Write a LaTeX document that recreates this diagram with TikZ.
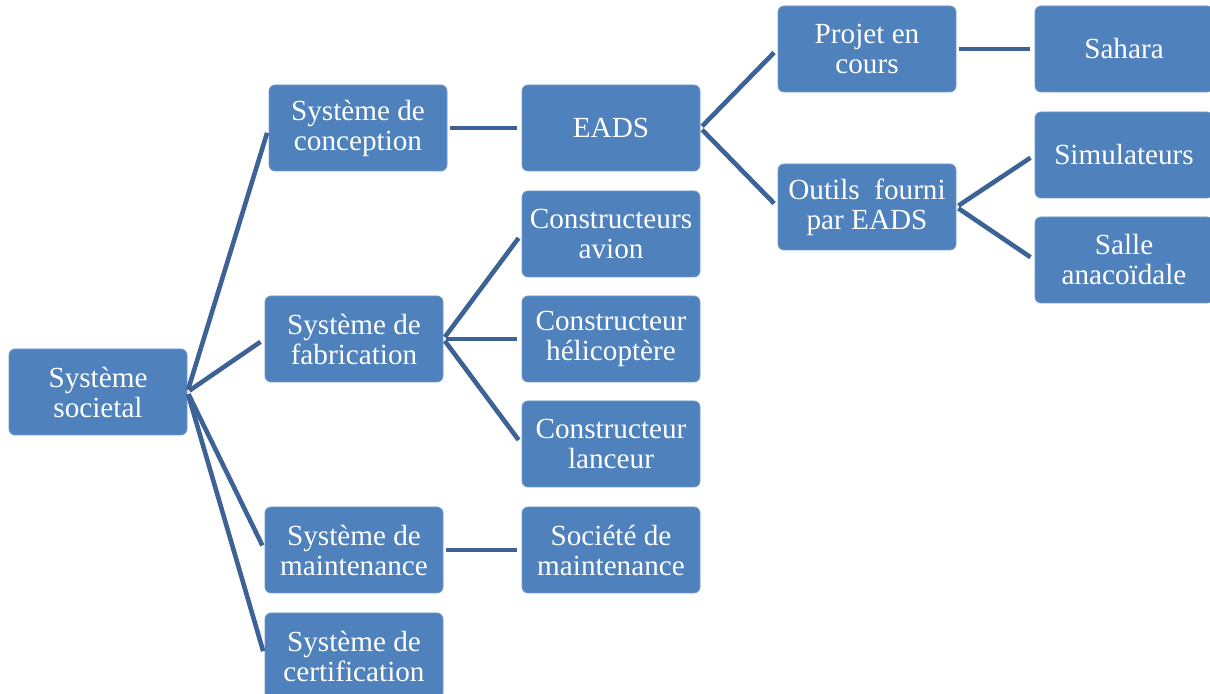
\documentclass[tikz,border=0pt]{standalone}
\usepackage{fontspec}
\setmainfont{Liberation Serif}
\usepackage{tikz}
\usetikzlibrary{positioning}
\definecolor{SmartBlau}{RGB}{79,129,189}
\definecolor{LinkBlau}{RGB}{60,98,150}

\tikzset{
    box/.style={shape=rectangle, rounded corners=3pt, fill=SmartBlau, draw=SmartBlau!80!white, line width=0.4pt,
                minimum width=89pt, minimum height=43pt, inner sep=1pt, align=center, text=white,
                font=\fontsize{14.6}{15}\selectfont},
    link/.style={line width=2.3pt, LinkBlau, shorten <=1.2pt, shorten >=2.5pt}
}

\begin{document}
\begin{tikzpicture}[x=0.5pt, y=-0.5pt]
    \useasboundingbox (0,0) rectangle (1210,694);
    % niveau 0
    \node[box] (soc)      at (  98,392) {Système\\societal};
    % niveau 1
    \node[box] (conc)     at ( 358,128) {Système de\\conception};
    \node[box] (fab)      at ( 354,339) {Système de\\fabrication};
    \node[box] (maint)    at ( 354,550) {Système de\\maintenance};
    \node[box] (cert)     at ( 354,656) {Système de\\certification};
    % niveau 2
    \node[box] (eads)     at ( 611,128) {EADS};
    \node[box] (cavion)   at ( 611,234) {Constructeurs\\avion};
    \node[box] (chelico)  at ( 611,339) {Constructeur\\hélicoptère};
    \node[box] (clanc)    at ( 611,444) {Constructeur\\lanceur};
    \node[box] (socmaint) at ( 611,550) {Société de\\maintenance};
    % niveau 3
    \node[box] (projet)   at ( 867, 49) {Projet en\\cours};
    \node[box] (outils)   at ( 867,207) {Outils\ \ fourni\\par EADS};
    % niveau 4
    \node[box] (sahara)   at (1124, 49) {Sahara};
    \node[box] (simul)    at (1124,155) {Simulateurs};
    \node[box] (salle)    at (1124,260) {Salle\\anacoïdale};

    \path[link] (soc.east)    edge (conc.west)
                (soc.east)    edge (fab.west)
                (soc.east)    edge (maint.west)
                (soc.east)    edge (cert.west);
    \path[link] (conc.east)   edge (eads.west);
    \path[link] (fab.east)    edge (cavion.west)
                (fab.east)    edge (chelico.west)
                (fab.east)    edge (clanc.west);
    \path[link] (maint.east)  edge (socmaint.west);
    \path[link] (eads.east)   edge (projet.west)
                (eads.east)   edge (outils.west);
    \path[link] (projet.east) edge (sahara.west);
    \path[link] (outils.east) edge (simul.west)
                (outils.east) edge (salle.west);
\end{tikzpicture}
\end{document}
